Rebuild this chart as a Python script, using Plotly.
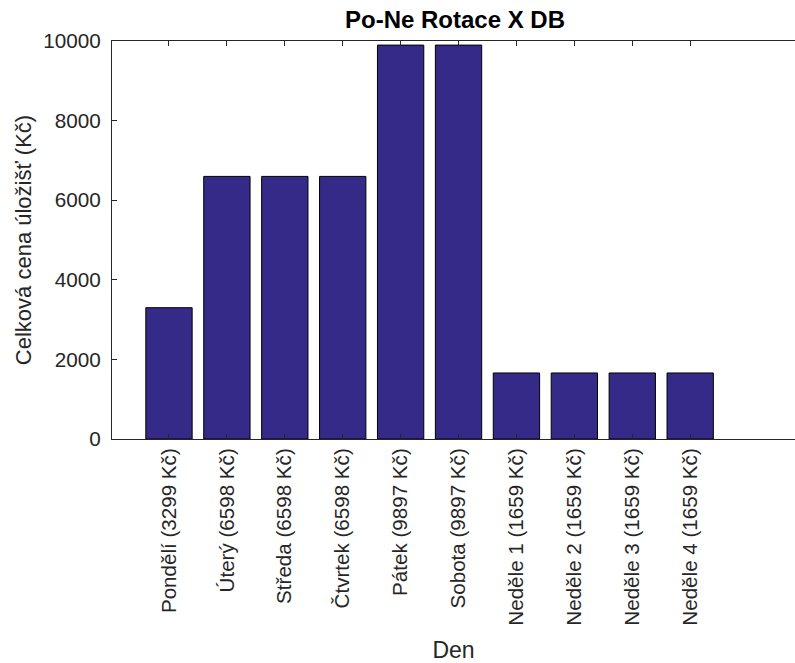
import plotly.graph_objects as go

categories = ["Pondělí (3299 Kč)", "Úterý (6598 Kč)", "Středa (6598 Kč)", "Čtvrtek (6598 Kč)",
              "Pátek (9897 Kč)", "Sobota (9897 Kč)", "Neděle 1 (1659 Kč)", "Neděle 2 (1659 Kč)",
              "Neděle 3 (1659 Kč)", "Neděle 4 (1659 Kč)"]
values = [3299, 6598, 6598, 6598, 9897, 9897, 1659, 1659, 1659, 1659]
y_ticks = [0, 2000, 4000, 6000, 8000, 10000]

FONT = "Liberation Sans, Arial, sans-serif"
TXT = "#262626"

fig = go.Figure(go.Bar(
    x=categories, y=values, width=0.8,
    marker=dict(color="#352A87", line=dict(color="black", width=1)),
))

fig.update_layout(
    width=795, height=663,
    margin=dict(l=112, r=0, t=41, b=224),
    paper_bgcolor="white", plot_bgcolor="white",
    showlegend=False,
    font=dict(family=FONT, color=TXT),
    title=dict(text="<b>Po-Ne Rotace X DB</b>", x=455 / 795, xanchor="center",
               y=1 - 20 / 663, yanchor="middle", font=dict(size=24, color="black")),
)
fig.update_xaxes(
    type="category", range=[-0.984, 10.81], tickangle=-90, automargin=False,
    tickfont=dict(size=20.6, color=TXT),
    showline=True, linecolor=TXT, linewidth=1, mirror="ticks",
    ticks="inside", ticklen=5, tickcolor=TXT, showgrid=False,
    title=dict(text="Den", font=dict(size=23, color=TXT), standoff=24),
)
fig.update_yaxes(
    range=[0, 10000], tickvals=y_ticks, ticktext=[str(v) for v in y_ticks], automargin=False,
    tickfont=dict(size=20.7, color=TXT), ticklabelstandoff=6,
    showline=True, linecolor=TXT, linewidth=1, mirror=False,
    ticks="inside", ticklen=5, tickcolor=TXT, showgrid=False, zeroline=False,
    title=dict(text="Celková cena úložišť (Kč)", font=dict(size=22, color=TXT), standoff=5),
)

fig.write_html("out.html", config={"displayModeBar": False},
               post_script="document.body.style.margin='0';")
